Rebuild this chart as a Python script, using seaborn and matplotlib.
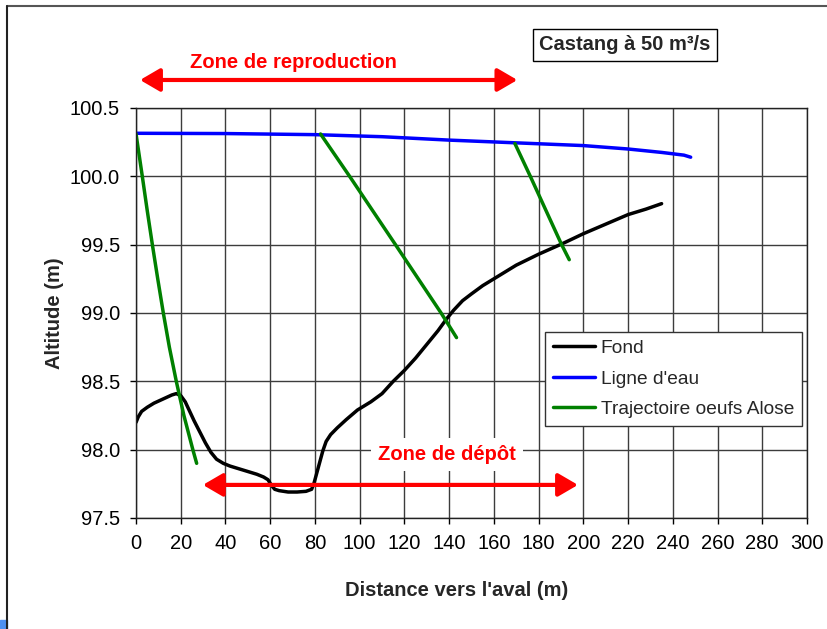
import matplotlib
matplotlib.use('Agg')
import matplotlib.pyplot as plt
import seaborn as sns
import pandas as pd
from matplotlib.lines import Line2D
from matplotlib.patches import Rectangle

# Fond du lit (profil en long)
fond_x = [0, 1, 2.5, 5, 8, 12, 16, 18, 20, 22, 24, 26, 28.5, 31, 33.5, 36, 39, 42, 46, 50,
          54, 57, 59, 60.5, 62, 64, 68, 72, 76, 78.5, 79.5, 80.5, 82, 83.5, 85, 87, 90, 94,
          99, 105, 110, 115, 120, 125, 130, 135, 139, 142, 146, 150, 155, 162, 170, 180,
          191, 200, 210, 220, 228, 235]
fond_y = [98.2, 98.24, 98.28, 98.31, 98.34, 98.37, 98.4, 98.41, 98.395, 98.35, 98.28, 98.21,
          98.13, 98.05, 97.98, 97.93, 97.9, 97.88, 97.86, 97.84, 97.82, 97.8, 97.78, 97.74,
          97.71, 97.70, 97.69, 97.69, 97.695, 97.71, 97.75, 97.81, 97.9, 97.99, 98.06, 98.11,
          98.16, 98.22, 98.29, 98.35, 98.41, 98.5, 98.58, 98.67, 98.77, 98.87, 98.96, 99.02,
          99.09, 99.14, 99.2, 99.27, 99.35, 99.43, 99.51, 99.58, 99.65, 99.72, 99.76, 99.8]

# Ligne d'eau
eau_x = [0, 40, 80, 110, 140, 170, 200, 220, 235, 245, 248]
eau_y = [100.315, 100.313, 100.305, 100.29, 100.265, 100.245, 100.225, 100.2, 100.175,
         100.155, 100.14]

# Trajectoires des oeufs
traj1_x = [0, 2.8, 5.0, 7.3, 9.7, 12.2, 14.9, 18.0, 21.4, 25.4, 27.1]
traj1_y = [100.31, 100.0, 99.75, 99.5, 99.25, 99.0, 98.75, 98.5, 98.25, 98.0, 97.9]
traj2_x = [82.5, 95.5, 116, 136.4, 143.3]
traj2_y = [100.31, 100.0, 99.5, 99.0, 98.82]
traj3_x = [169.4, 176.3, 190.3, 193.7]
traj3_y = [100.24, 100.0, 99.5, 99.39]

x_ticks = [0, 20, 40, 60, 80, 100, 120, 140, 160, 180, 200, 220, 240, 260, 280, 300]
y_ticks = [97.5, 98.0, 98.5, 99.0, 99.5, 100.0, 100.5]

legend_labels = ['Fond', "Ligne d'eau", 'Trajectoire oeufs Alose']
colors = ['black', '#0000ff', '#008000']

sns.set_style('ticks')
plt.rcParams['font.family'] = ['Liberation Sans', 'DejaVu Sans']

fig = plt.figure(figsize=(8.28, 6.29), dpi=100)
ax = fig.add_axes([0.1643, 0.1765, 0.8103, 0.6518])

traj = pd.DataFrame({
    'x': traj1_x + traj2_x + traj3_x,
    'y': traj1_y + traj2_y + traj3_y,
    'traj': [1] * len(traj1_x) + [2] * len(traj2_x) + [3] * len(traj3_x),
})

lw = 2.5
sns.lineplot(x=fond_x, y=fond_y, color=colors[0], lw=lw, sort=False, ax=ax, legend=False)
sns.lineplot(x=eau_x, y=eau_y, color=colors[1], lw=lw, sort=False, ax=ax, legend=False)
sns.lineplot(data=traj, x='x', y='y', units='traj', estimator=None, sort=False,
             color=colors[2], lw=lw, ax=ax, legend=False)

ax.set_xlim(0, 300)
ax.set_ylim(97.5, 100.5)
ax.set_xticks(x_ticks)
ax.set_yticks(y_ticks)
ax.set_yticklabels([f'{v:.1f}' for v in y_ticks])
ax.set_xlabel('')
ax.set_ylabel('')
ax.grid(True, color='#3c3c3c', lw=1)
ax.set_axisbelow(True)
for s in ax.spines.values():
    s.set_color('#222222')
    s.set_linewidth(1)
ax.tick_params(direction='out', length=4.5, width=1, pad=7, labelsize=14.5, colors='black')

handles = [Line2D([], [], color=c, lw=lw) for c in colors]
leg = ax.legend(handles, legend_labels, loc='upper left', bbox_to_anchor=(0.6095, 0.4537),
                borderaxespad=0, fontsize=13.8, frameon=True, fancybox=False,
                edgecolor='#333333', framealpha=1, handlelength=2.2, handletextpad=0.3,
                labelspacing=0.68, borderpad=0.4)
leg.get_frame().set_linewidth(1)

# Zones
arrow = dict(arrowstyle='<|-|>,head_length=0.6,head_width=0.35', color='red', lw=3,
             mutation_scale=20, shrinkA=0, shrinkB=0)
ax.annotate('', xy=(1.8, 100.705), xytext=(170.5, 100.705), arrowprops=arrow,
            annotation_clip=False)
ax.text(70.4, 100.793, 'Zone de reproduction', color='red', fontsize=14.5,
        fontweight='bold', ha='center', va='baseline', clip_on=False)
ax.annotate('', xy=(29.9, 97.742), xytext=(197.6, 97.742), arrowprops=arrow)
ax.text(139, 97.925, 'Zone de dépôt', color='red', fontsize=14.5, fontweight='bold',
        ha='center', va='baseline',
        bbox=dict(boxstyle='square,pad=0.35', fc='white', ec='none'))

fig.text(0.7548, 0.9285, 'Castang à 50 m³/s', fontsize=14.5, fontweight='bold',
         ha='center', va='center',
         bbox=dict(boxstyle='square,pad=0.3', fc='white', ec='black', lw=1))

fig.text(0.5513, 0.062, "Distance vers l'aval (m)", fontsize=14.5, fontweight='bold',
         ha='center', va='center')
fig.text(0.0664, 0.5024, 'Altitude (m)', fontsize=14.5, fontweight='bold',
         ha='center', va='center', rotation=90)

# cadre de la figure
fig.add_artist(Line2D([0.00845, 1], [0.9897, 0.9897], color='#555555', lw=1.5,
                      transform=fig.transFigure))
fig.add_artist(Line2D([0.00845, 0.00845], [0, 0.9897], color='#222222', lw=1.5,
                      transform=fig.transFigure))
fig.add_artist(Rectangle((0, 0), 7 / 828, 9 / 629, color='#4d8ff0',
                         transform=fig.transFigure))

fig.savefig('out.png', dpi=100)
